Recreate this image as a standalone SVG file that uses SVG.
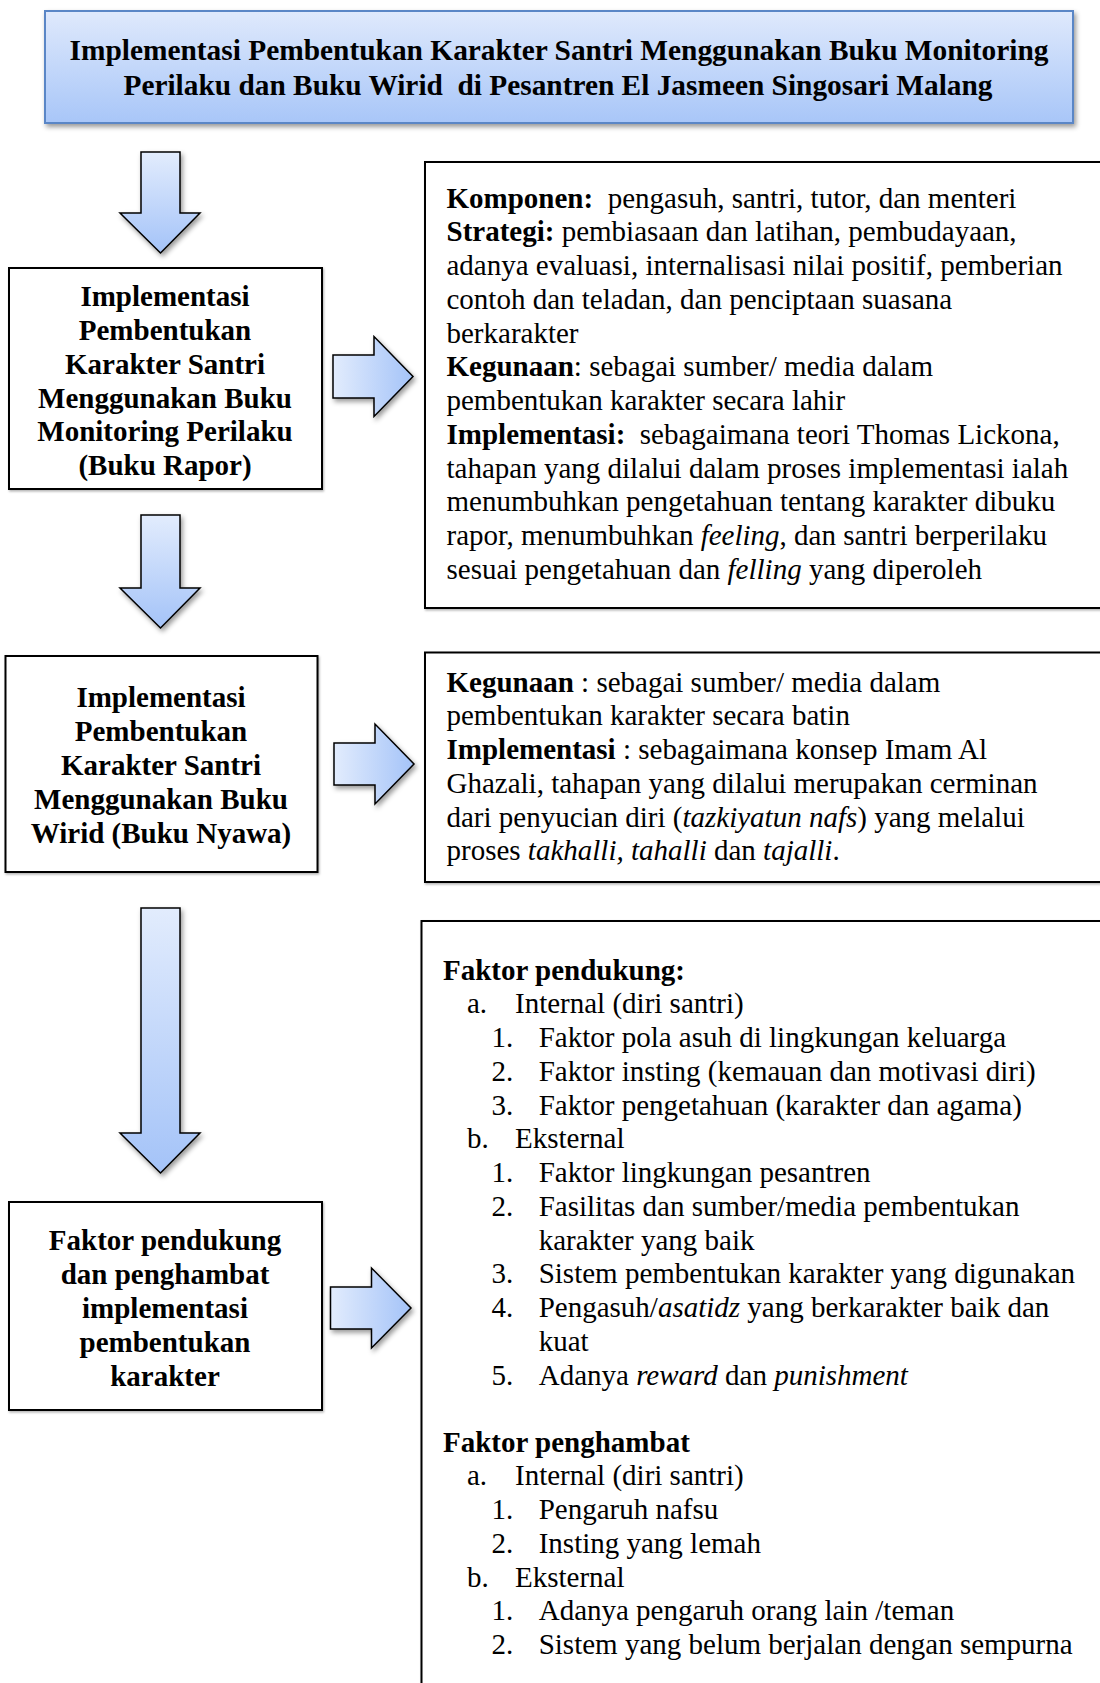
<svg xmlns="http://www.w3.org/2000/svg" width="1100" height="1683" viewBox="0 0 1100 1683">
<style>
.t{font-family:"Liberation Serif","Times New Roman",serif;fill:#000}
.r{font-size:29px}
.b{font-weight:bold}
.i{font-style:italic}
.lb{font-size:29px;font-weight:bold;text-anchor:middle}
.box{fill:#fff;stroke:#000;stroke-width:2}
.arr{stroke:#000;stroke-width:1.5;stroke-linejoin:miter}
</style>
<defs>
<linearGradient id="gt" x1="0" y1="0" x2="0" y2="1">
<stop offset="0" stop-color="#dfe9fc"/>
<stop offset="1" stop-color="#a8c6f8"/>
</linearGradient>
<linearGradient id="gd" x1="0" y1="0" x2="0" y2="1">
<stop offset="0" stop-color="#e2ecfd"/>
<stop offset="1" stop-color="#a4c3f8"/>
</linearGradient>
<linearGradient id="gr" x1="0" y1="0" x2="1" y2="0">
<stop offset="0" stop-color="#e2ecfd"/>
<stop offset="1" stop-color="#a4c3f8"/>
</linearGradient>
<filter id="sh" x="-10%" y="-10%" width="130%" height="140%">
<feDropShadow dx="2" dy="3" stdDeviation="2.5" flood-color="#000" flood-opacity="0.4"/>
</filter>
<filter id="sb" x="-5%" y="-5%" width="110%" height="110%">
<feDropShadow dx="1" dy="1.5" stdDeviation="1" flood-color="#000" flood-opacity="0.3"/>
</filter>
</defs>

<g id="title">
<rect x="45" y="11" width="1028" height="112" fill="url(#gt)" stroke="#5a86c6" stroke-width="2" filter="url(#sh)"/>
<text class="t b" font-size="29" x="559" y="60" text-anchor="middle" textLength="979" lengthAdjust="spacingAndGlyphs">Implementasi Pembentukan Karakter Santri Menggunakan Buku Monitoring</text>
<text class="t b" font-size="29" x="558" y="95" text-anchor="middle" xml:space="preserve" textLength="869" lengthAdjust="spacingAndGlyphs">Perilaku dan Buku Wirid  di Pesantren El Jasmeen Singosari Malang</text>
</g>

<g id="connectors">
<path class="arr" fill="url(#gd)" filter="url(#sh)" d="M141,152 H180 V213 H200 L160.5,253 L120,213 H141 Z"/>
<path class="arr" fill="url(#gd)" filter="url(#sh)" d="M141,515 H180 V588 H200 L160.5,628 L120,588 H141 Z"/>
<path class="arr" fill="url(#gd)" filter="url(#sh)" d="M141,908 H180 V1133 H200 L160.5,1173 L120,1133 H141 Z"/>
<path class="arr" fill="url(#gr)" filter="url(#sh)" d="M333,355 H374 V336.5 L413,376.5 L374,416.5 V398 H333 Z"/>
<path class="arr" fill="url(#gr)" filter="url(#sh)" d="M334,743 H375 V724 L414,764 L375,804 V785 H334 Z"/>
<path class="arr" fill="url(#gr)" filter="url(#sh)" d="M330.5,1287 H371.5 V1268 L411,1308 L371.5,1348 V1329 H330.5 Z"/>
</g>

<g id="box-rapor">
<rect class="box" x="9" y="268" width="313" height="221" filter="url(#sb)"/>
<text class="t lb" x="165" y="306">Implementasi</text>
<text class="t lb" x="165" y="340">Pembentukan</text>
<text class="t lb" x="165" y="374">Karakter Santri</text>
<text class="t lb" x="165" y="408">Menggunakan Buku</text>
<text class="t lb" x="165" y="441">Monitoring Perilaku</text>
<text class="t lb" x="165" y="475">(Buku Rapor)</text>
</g>

<g id="box-wirid">
<rect class="box" x="5.5" y="656" width="312" height="216" filter="url(#sb)"/>
<text class="t lb" x="161" y="707">Implementasi</text>
<text class="t lb" x="161" y="741">Pembentukan</text>
<text class="t lb" x="161" y="775">Karakter Santri</text>
<text class="t lb" x="161" y="809">Menggunakan Buku</text>
<text class="t lb" x="161" y="843">Wirid (Buku Nyawa)</text>
</g>

<g id="box-faktor">
<rect class="box" x="9" y="1202" width="313" height="208" filter="url(#sb)"/>
<text class="t lb" x="165" y="1250">Faktor pendukung</text>
<text class="t lb" x="165" y="1284">dan penghambat</text>
<text class="t lb" x="165" y="1318">implementasi</text>
<text class="t lb" x="165" y="1352">pembentukan</text>
<text class="t lb" x="165" y="1386">karakter</text>
</g>

<g id="detail-rapor">
<rect class="box" x="425" y="162" width="690" height="446" filter="url(#sb)"/>
<text class="t r" x="446.5" y="207.5" xml:space="preserve"><tspan class="b">Komponen:</tspan>  pengasuh, santri, tutor, dan menteri</text>
<text class="t r" x="446.5" y="241.3"><tspan class="b">Strategi:</tspan> pembiasaan dan latihan, pembudayaan,</text>
<text class="t r" x="446.5" y="275">adanya evaluasi, internalisasi nilai positif, pemberian</text>
<text class="t r" x="446.5" y="308.8">contoh dan teladan, dan penciptaan suasana</text>
<text class="t r" x="446.5" y="342.5">berkarakter</text>
<text class="t r" x="446.5" y="376.3"><tspan class="b">Kegunaan</tspan>: sebagai sumber/ media dalam</text>
<text class="t r" x="446.5" y="410">pembentukan karakter secara lahir</text>
<text class="t r" x="446.5" y="443.8" xml:space="preserve"><tspan class="b">Implementasi:</tspan>  sebagaimana teori Thomas Lickona,</text>
<text class="t r" x="446.5" y="477.5">tahapan yang dilalui dalam proses implementasi ialah</text>
<text class="t r" x="446.5" y="511.3">menumbuhkan pengetahuan tentang karakter dibuku</text>
<text class="t r" x="446.5" y="545">rapor, menumbuhkan <tspan class="i">feeling</tspan>, dan santri berperilaku</text>
<text class="t r" x="446.5" y="578.8">sesuai pengetahuan dan <tspan class="i">felling</tspan> yang diperoleh</text>
</g>

<g id="detail-wirid">
<rect class="box" x="425" y="652.5" width="690" height="229.5" filter="url(#sb)"/>
<text class="t r" x="446.5" y="691.5"><tspan class="b">Kegunaan</tspan> : sebagai sumber/ media dalam</text>
<text class="t r" x="446.5" y="725.3">pembentukan karakter secara batin</text>
<text class="t r" x="446.5" y="759"><tspan class="b">Implementasi</tspan> : sebagaimana konsep Imam Al</text>
<text class="t r" x="446.5" y="792.8">Ghazali, tahapan yang dilalui merupakan cerminan</text>
<text class="t r" x="446.5" y="826.5">dari penyucian diri (<tspan class="i">tazkiyatun nafs</tspan>) yang melalui</text>
<text class="t r" x="446.5" y="860.3">proses <tspan class="i">takhalli, tahalli</tspan> dan <tspan class="i">tajalli</tspan>.</text>
</g>

<g id="detail-faktor">
<rect class="box" x="421.5" y="921" width="694" height="790" filter="url(#sb)"/>
<text class="t r b" x="443" y="979.5">Faktor pendukung:</text>
<text class="t r" x="467" y="1013.3">a.</text><text class="t r" x="515" y="1013.3">Internal (diri santri)</text>
<text class="t r" x="491.5" y="1047">1.</text><text class="t r" x="538.7" y="1047">Faktor pola asuh di lingkungan keluarga</text>
<text class="t r" x="491.5" y="1080.8">2.</text><text class="t r" x="538.7" y="1080.8">Faktor insting (kemauan dan motivasi diri)</text>
<text class="t r" x="491.5" y="1114.5">3.</text><text class="t r" x="538.7" y="1114.5">Faktor pengetahuan (karakter dan agama)</text>
<text class="t r" x="467" y="1148.3">b.</text><text class="t r" x="515" y="1148.3">Eksternal</text>
<text class="t r" x="491.5" y="1182">1.</text><text class="t r" x="538.7" y="1182">Faktor lingkungan pesantren</text>
<text class="t r" x="491.5" y="1215.8">2.</text><text class="t r" x="538.7" y="1215.8">Fasilitas dan sumber/media pembentukan</text>
<text class="t r" x="538.7" y="1249.5">karakter yang baik</text>
<text class="t r" x="491.5" y="1283.3">3.</text><text class="t r" x="538.7" y="1283.3">Sistem pembentukan karakter yang digunakan</text>
<text class="t r" x="491.5" y="1317">4.</text><text class="t r" x="538.7" y="1317">Pengasuh/<tspan class="i">asatidz</tspan> yang berkarakter baik dan</text>
<text class="t r" x="538.7" y="1350.8">kuat</text>
<text class="t r" x="491.5" y="1384.5">5.</text><text class="t r" x="538.7" y="1384.5">Adanya <tspan class="i">reward</tspan> dan <tspan class="i">punishment</tspan></text>
<text class="t r b" x="443" y="1451.5">Faktor penghambat</text>
<text class="t r" x="467" y="1485.3">a.</text><text class="t r" x="515" y="1485.3">Internal (diri santri)</text>
<text class="t r" x="491.5" y="1519">1.</text><text class="t r" x="538.7" y="1519">Pengaruh nafsu</text>
<text class="t r" x="491.5" y="1552.8">2.</text><text class="t r" x="538.7" y="1552.8">Insting yang lemah</text>
<text class="t r" x="467" y="1586.5">b.</text><text class="t r" x="515" y="1586.5">Eksternal</text>
<text class="t r" x="491.5" y="1620.3">1.</text><text class="t r" x="538.7" y="1620.3">Adanya pengaruh orang lain /teman</text>
<text class="t r" x="491.5" y="1654">2.</text><text class="t r" x="538.7" y="1654">Sistem yang belum berjalan dengan sempurna</text>
</g>
</svg>
